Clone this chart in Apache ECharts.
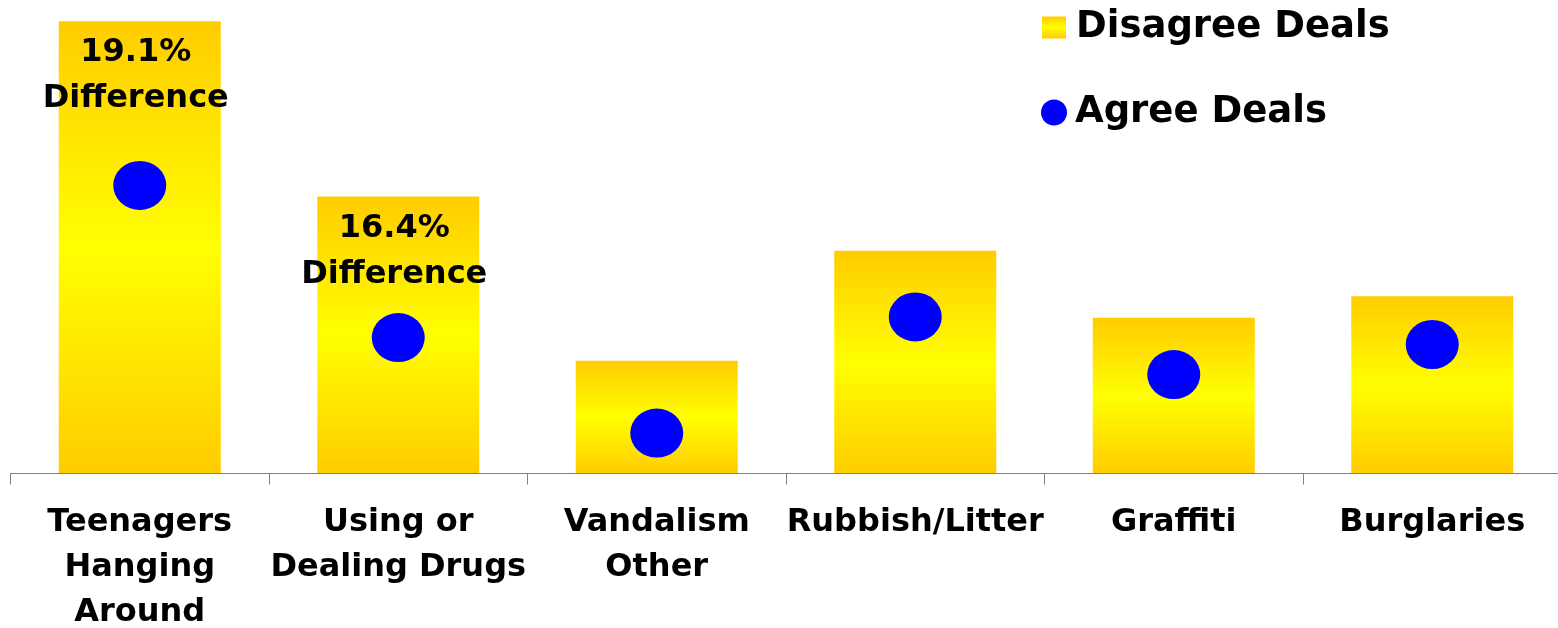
<!DOCTYPE html>
<html>
<head>
<meta charset="utf-8">
<script src="https://cdn.jsdelivr.net/npm/echarts@6/dist/echarts.min.js"></script>
<style>
  html, body { margin: 0; padding: 0; background: #ffffff; }
  #chart { width: 1558px; height: 628px; }
</style>
</head>
<body>
<div id="chart"></div>
<script>
// Problems named in the survey, share of respondents (%)
const categories = [
  'Teenagers\nHanging\nAround',
  'Using or\nDealing Drugs',
  'Vandalism\nOther',
  'Rubbish/Litter',
  'Graffiti',
  'Burglaries'
];
const disagreeDeals = [52.6, 32.2, 13.1, 25.9, 18.1, 20.6];
const agreeDeals = [33.5, 15.8, 4.7, 18.2, 11.5, 15.0];
// Categories whose gap between the two groups is called out on the bar
const annotatedIndices = [0, 1];

const FONT = 'DejaVu Sans';

const barGradient = new echarts.graphic.LinearGradient(0, 0, 0, 1, [
  { offset: 0, color: '#FFCC00' },
  { offset: 0.5, color: '#FFFF00' },
  { offset: 1, color: '#FFCC00' }
]);

const barData = disagreeDeals.map(function (v, i) {
  if (annotatedIndices.indexOf(i) === -1) return v;
  const diff = (disagreeDeals[i] - agreeDeals[i]).toFixed(1);
  return {
    value: v,
    label: {
      show: true,
      formatter: diff + '%\nDifference'
    }
  };
});

const chart = echarts.init(document.getElementById('chart'), null, { renderer: 'canvas' });

chart.setOption({
  animation: false,
  backgroundColor: '#ffffff',
  grid: {
    left: 10.5,
    width: 1551,
    top: 0.5,
    bottom: 154.5,
    containLabel: false,
    outerBoundsMode: 'none'
  },
  legend: [
    {
      data: [{ name: 'Disagree Deals', icon: 'rect' }],
      left: 1037,
      top: 4,
      itemWidth: 24,
      itemHeight: 22,
      textStyle: { fontFamily: FONT, fontWeight: 'bold', fontSize: 37, color: '#000', padding: [0, 0, 0, 5] }
    },
    {
      data: [{ name: 'Agree Deals', icon: 'circle' }],
      left: 1036,
      top: 89,
      itemWidth: 26,
      itemHeight: 26,
      textStyle: { fontFamily: FONT, fontWeight: 'bold', fontSize: 37, color: '#000', padding: [0, 0, 0, 3] }
    }
  ],
  xAxis: {
    type: 'category',
    data: categories,
    z: 3,
    axisLine: { lineStyle: { color: '#808080', width: 1 } },
    axisTick: { show: true, length: 11, interval: 0, lineStyle: { color: '#808080' } },
    axisLabel: {
      interval: 0,
      margin: 27,
      fontFamily: FONT,
      fontWeight: 'bold',
      fontSize: 32,
      lineHeight: 45,
      color: '#000'
    }
  },
  yAxis: {
    type: 'value',
    min: 0,
    max: 55,
    show: false,
    splitLine: { show: false }
  },
  series: [
    {
      name: 'Disagree Deals',
      type: 'bar',
      data: barData,
      barWidth: 162,
      itemStyle: { color: barGradient },
      label: {
        show: false,
        position: 'insideTop',
        distance: 9,
        offset: [-4, 0],
        fontFamily: FONT,
        fontWeight: 'bold',
        fontSize: 32,
        lineHeight: 46,
        color: '#000'
      }
    },
    {
      name: 'Agree Deals',
      type: 'scatter',
      data: agreeDeals,
      symbol: 'circle',
      symbolSize: [53, 49],
      z: 4,
      itemStyle: { color: '#0000FF', opacity: 1 }
    }
  ]
});
</script>
</body>
</html>
